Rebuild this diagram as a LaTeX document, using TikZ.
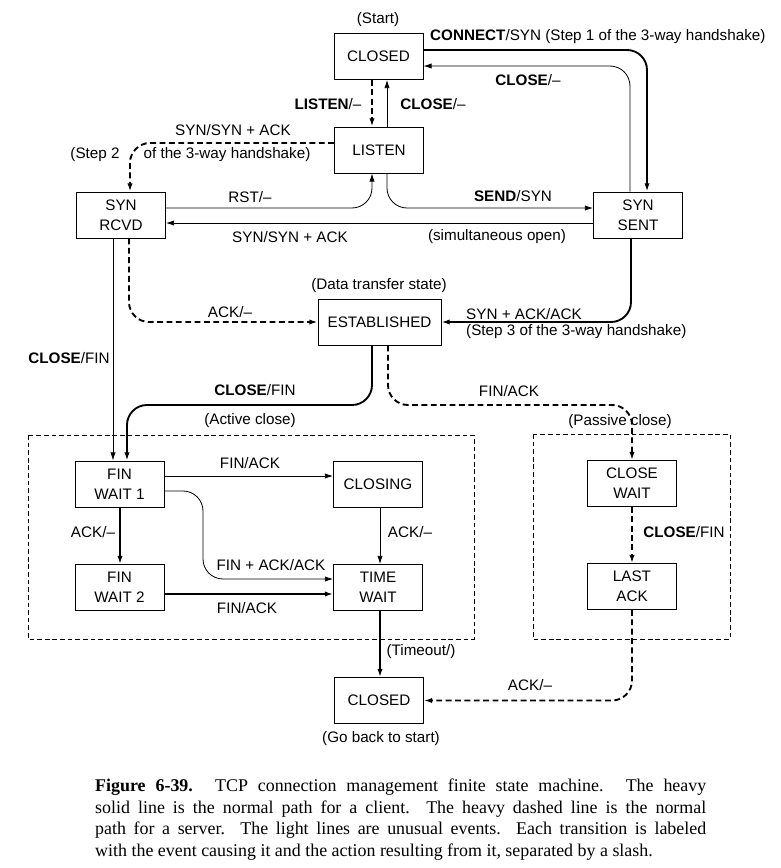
\documentclass[tikz,border=0pt]{standalone}
\usepackage{fontspec}
\setmainfont{Liberation Serif}
\setsansfont{Liberation Sans}
\usetikzlibrary{arrows.meta}
\begin{document}
\begin{tikzpicture}[x=0.03cm, y=-0.03cm,
    font=\sffamily\fontsize{13}{17}\selectfont,
    state/.style={draw, line width=0.7pt, minimum width=2.67cm, minimum height=1.38cm, align=center, inner sep=2pt},
    light/.style={line width=0.7pt, rounded corners=0.6cm, -{Latex[length=7pt,width=4.5pt]}},
    heavy/.style={line width=1.6pt, rounded corners=0.6cm, -{Latex[length=7pt,width=4.5pt]}},
    heavydash/.style={heavy, dash pattern=on 5pt off 3pt},
    grouped/.style={line width=0.6pt, dash pattern=on 4pt off 2.5pt},
    lbl/.style={inner sep=0pt}]
      \useasboundingbox (0,0) rectangle (780,868);
      % states
      \node[state] (closed) at (378.5,56.5) {CLOSED};
      \node[state] (listen) at (379,150) {LISTEN};
      \node[state] (synrcvd) at (121,215) {SYN\\RCVD};
      \node[state] (synsent) at (638,215) {SYN\\SENT};
      \node[state, minimum width=3.69cm] (established) at (379.5,322) {ESTABLISHED};
      \node[state] (finwait1) at (119.5,484) {FIN\\WAIT 1};
      \node[state] (closing) at (378,484) {CLOSING};
      \node[state] (finwait2) at (119.5,587.5) {FIN\\WAIT 2};
      \node[state] (timewait) at (378,587.5) {TIME\\WAIT};
      \node[state] (closewait) at (632,483.5) {CLOSE\\WAIT};
      \node[state] (lastack) at (632,586.5) {LAST\\ACK};
      \node[state] (closedend) at (379,700.5) {CLOSED};
      % active and passive close
      \draw[grouped] (28,435) rectangle (474,639);
      \draw[grouped] (533,434) rectangle (730,639);
      % transitions
      \draw[heavy] (closed.east |- 0,50) -| (647,0 |- synsent.north);
      \draw[light] (630,0 |- synsent.north) |- (closed.east |- 0,66);
      \draw[heavydash] (372,0 |- closed.south) -- (372,0 |- listen.north);
      \draw[light] (387,0 |- listen.north) -- (387,0 |- closed.south);
      \draw[heavydash] (listen.west |- 0,143) -| (130,0 |- synrcvd.north);
      \draw[light] (synrcvd.east |- 0,208) -| (372,0 |- listen.south);
      \draw[light] (387,0 |- listen.south) |- (synsent.west |- 0,208);
      \draw[light] (synsent.west |- 0,223) -- (synrcvd.east |- 0,223);
      \draw[heavydash] (129,0 |- synrcvd.south) |- (established.west);
      \draw[heavy] (631,0 |- synsent.south) |- (established.east);
      \draw[light] (113,0 |- synrcvd.south) -- (113,0 |- finwait1.north);
      \draw[heavy] (372,0 |- established.south) |- (250,405) -| (127,0 |- finwait1.north);
      \draw[heavydash] (388,0 |- established.south) |- (500,405) -| (closewait.north);
      \draw[light] (finwait1.east |- 0,476) -- (closing.west |- 0,476);
      \draw[light] (finwait1.east |- 0,491) -| (203,540) |- (timewait.west |- 0,579);
      \draw[heavy] (120,0 |- finwait1.south) -- (120,0 |- finwait2.north);
      \draw[light] (380,0 |- closing.south) -- (380,0 |- timewait.north);
      \draw[heavy] (finwait2.east |- 0,594) -- (timewait.west |- 0,594);
      \draw[heavy] (380,0 |- timewait.south) -- (380,0 |- closedend.north);
      \draw[heavydash] (closewait.south) -- (lastack.north);
      \draw[heavydash] (lastack.south) |- (closedend.east);
      % labels
      \node[lbl] (start) at (378,20) {(Start)};
      \node[lbl, anchor=west] (connect) at (430,37) {\textbf{CONNECT}/SYN (Step 1 of the 3-way handshake)};
      \node[lbl] (close1) at (528,80) {\textbf{CLOSE}/--};
      \node[lbl] (listenlbl) at (328,104) {\textbf{LISTEN}/--};
      \node[lbl] (close2) at (433,104) {\textbf{CLOSE}/--};
      \node[lbl] (synack1) at (233,130) {SYN/SYN + ACK};
      \node[lbl] (step2a) at (95,155) {(Step 2};
      \node[lbl] (step2b) at (227,155) {of the 3-way handshake)};
      \node[lbl] (rst) at (250,197) {RST/--};
      \node[lbl] (send) at (513,196) {\textbf{SEND}/SYN};
      \node[lbl] (synack2) at (290,237) {SYN/SYN + ACK};
      \node[lbl] (simopen) at (497,237) {(simultaneous open)};
      \node[lbl] (datatrans) at (379,286) {(Data transfer state)};
      \node[lbl, anchor=west] (synackack) at (466,314) {SYN + ACK/ACK};
      \node[lbl, anchor=west] (step3) at (466,332) {(Step 3 of the 3-way handshake)};
      \node[lbl] (ack1) at (230,312) {ACK/--};
      \node[lbl] (closefin1) at (69,358) {\textbf{CLOSE}/FIN};
      \node[lbl] (closefin2) at (255,390) {\textbf{CLOSE}/FIN};
      \node[lbl] (activelbl) at (250,421) {(Active close)};
      \node[lbl] (finack1) at (509,391) {FIN/ACK};
      \node[lbl] (passivelbl) at (620,422) {(Passive close)};
      \node[lbl] (finack2) at (250,463) {FIN/ACK};
      \node[lbl] (ack2) at (93,532) {ACK/--};
      \node[lbl] (ack3) at (410,532) {ACK/--};
      \node[lbl] (finackack) at (271,565) {FIN + ACK/ACK};
      \node[lbl] (finack3) at (247,608) {FIN/ACK};
      \node[lbl] (closefin3) at (684,532) {\textbf{CLOSE}/FIN};
      \node[lbl] (timeout) at (421,652) {(Timeout/)};
      \node[lbl] (ack4) at (530,685) {ACK/--};
      \node[lbl] (goback) at (381,739) {(Go back to start)};
      % caption
      \node[lbl, anchor=north west, text width=18.33cm, align=justify,
        font=\rmfamily\fontsize{15.3}{18.4}\selectfont] (caption) at (95,779)
        {\textbf{Figure 6-39.} TCP connection management finite state machine.  The heavy\linebreak
        solid line is the normal path for a client.  The heavy dashed line is the normal\linebreak
        path for a server.  The light lines are unusual events.  Each transition is labeled\linebreak
        with the event causing it and the action resulting from it, separated by a slash.};
\end{tikzpicture}
\end{document}
